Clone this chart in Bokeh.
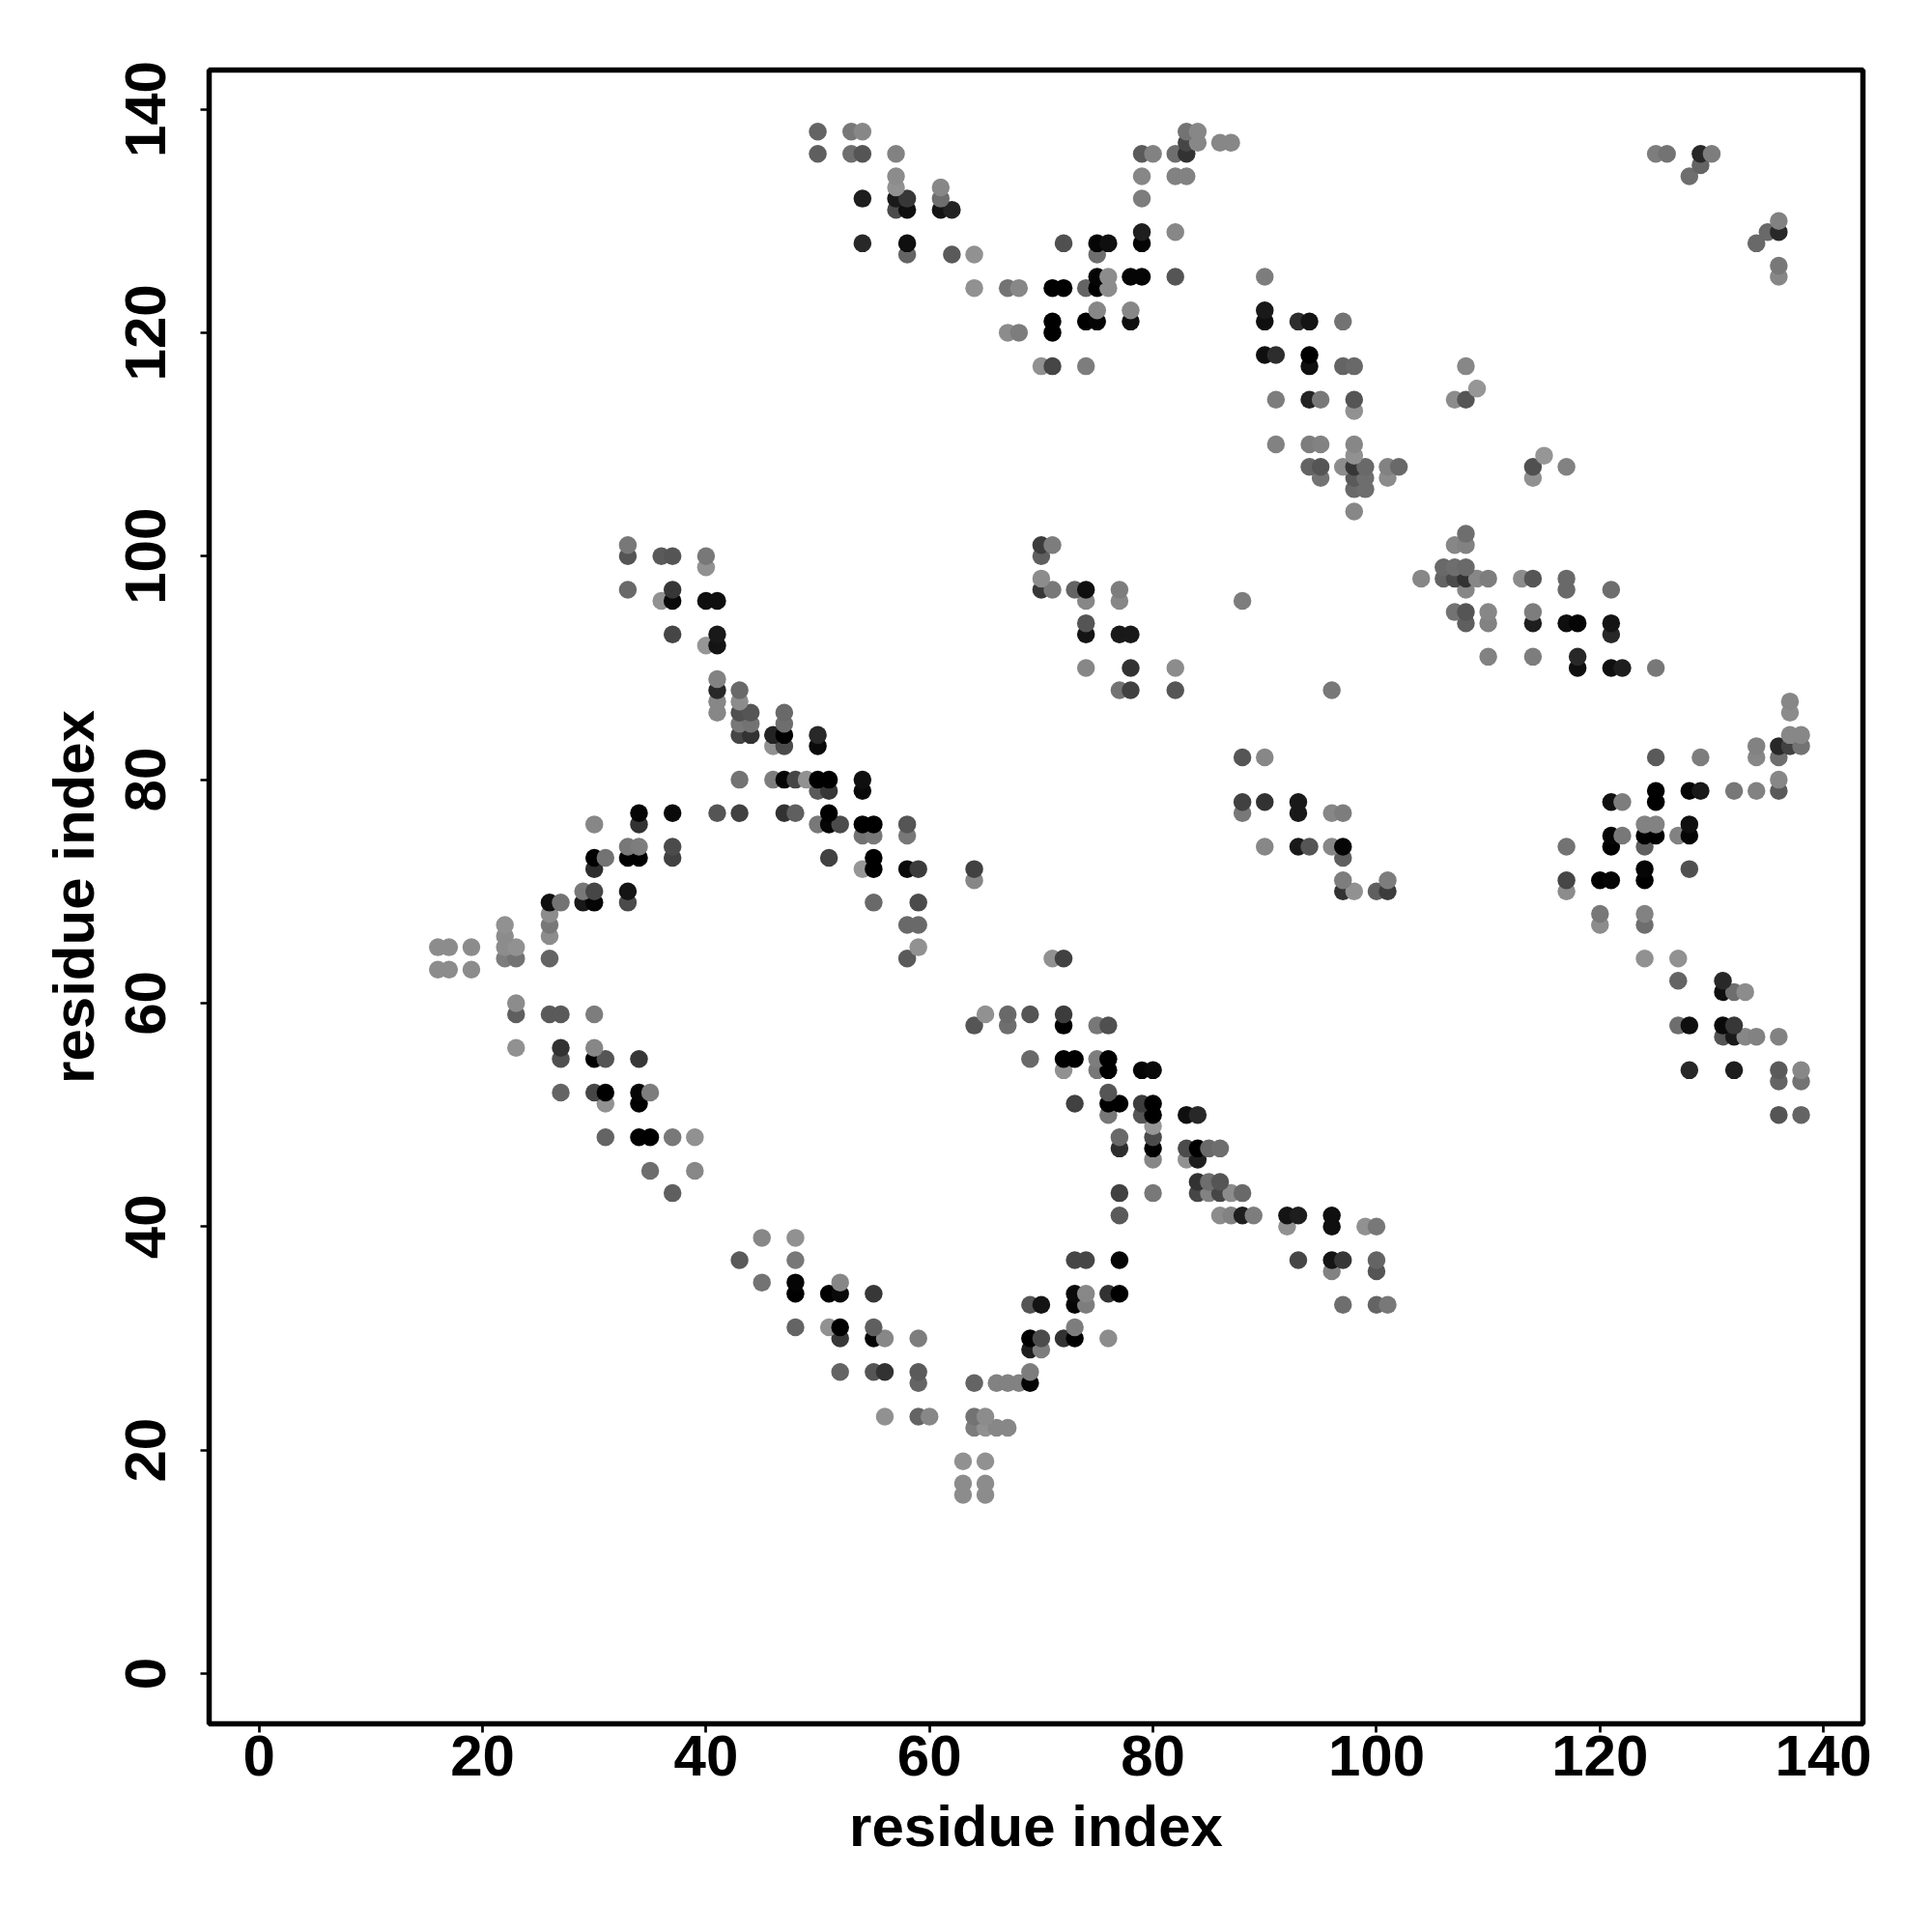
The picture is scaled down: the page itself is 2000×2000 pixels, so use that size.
from bokeh.plotting import figure
from bokeh.models import FixedTicker, Range1d, ColumnDataSource
from bokeh.embed import file_html
from bokeh.resources import INLINE

tick_values = [0, 20, 40, 60, 80, 100, 120, 140]
axis_title = "residue index"

row_y = [138, 137, 136, 135, 134, 133, 132, 131, 130, 129,
         128, 127, 126, 125, 124, 122, 121, 120, 118, 117,
         115, 114, 113, 110, 109, 108, 107, 106, 104, 102,
         101, 100, 99, 98, 97, 96, 95, 94, 93, 92,
         91, 90, 89, 88, 87, 86, 85, 84, 83, 82,
         80, 79, 78, 77, 76, 75, 74, 73, 72, 71,
         70, 69, 68, 67, 66, 65, 64, 63, 62, 61,
         60, 59, 58, 57, 56, 55, 54, 53, 52, 51,
         50, 49, 48, 47, 46, 45, 44, 43, 41, 40,
         39, 37, 36, 35, 34, 33, 31, 30, 29, 27,
         26, 23, 22, 19, 17, 16]

row_x = [
    [50, 53, 54, 83, 84],
    [83, 84, 86, 87],
    [50, 53, 54, 57, 79, 80, 82, 83, 125, 126, 129, 130],
    [129],
    [57, 79, 82, 83, 128],
    [57, 61],
    [54, 57, 58, 61, 79],
    [57, 58, 61, 62],
    [136],
    [79, 82, 135, 136],
    [54, 58, 72, 75, 76, 79, 134],
    [58, 62, 64, 75],
    [136],
    [75, 76, 78, 79, 82, 90, 136],
    [64, 67, 68, 71, 72, 74, 75, 76],
    [75, 78, 90],
    [71, 74, 75, 78, 90, 93, 94, 97],
    [67, 68, 71],
    [90, 91, 94],
    [70, 71, 74, 94, 97, 98, 108],
    [109],
    [91, 94, 95, 98, 107, 108],
    [98],
    [91, 94, 95, 98],
    [98, 115],
    [94, 95, 97, 98, 99, 101, 102, 114, 117],
    [95, 98, 99, 101, 114],
    [98, 99],
    [98],
    [108],
    [33, 70, 71, 107, 108],
    [33, 36, 37, 40, 70],
    [40, 106, 107, 108],
    [70, 104, 106, 107, 108, 109, 110, 113, 114, 117],
    [33, 37, 70, 71, 73, 74, 77, 108, 117, 121],
    [36, 37, 40, 41, 74, 77, 88],
    [107, 108, 110, 114],
    [74, 108, 110, 114, 117, 118, 121],
    [37, 41, 74, 77, 78, 121],
    [40, 41],
    [110, 114, 118],
    [74, 78, 82, 118, 121, 122, 125],
    [41],
    [41, 43, 77, 78, 82, 96],
    [41, 43, 137],
    [41, 43, 44, 47, 137],
    [43, 44, 47],
    [43, 44, 46, 47, 50, 137, 138],
    [46, 47, 50, 134, 136, 137, 138],
    [88, 90, 125, 129, 134, 136],
    [43, 46, 47, 48, 49, 50, 51, 54, 136],
    [50, 51, 54, 125, 128, 129, 132, 134, 136],
    [88, 90, 93, 121, 122, 125],
    [34, 37, 41, 43, 47, 48, 51, 88, 93, 96, 97],
    [30, 34, 50, 51, 52, 54, 55, 58, 124, 125, 128],
    [54, 55, 58, 121, 122, 124, 125, 127, 128],
    [33, 34, 37, 90, 93, 94, 96, 97, 117, 121, 124],
    [30, 31, 33, 34, 37, 51, 55, 97],
    [30, 54, 55, 58, 59, 64, 124, 128],
    [64, 97, 101, 117, 120, 121, 124],
    [29, 30, 33, 97, 98, 100, 101, 117],
    [26, 27, 29, 30, 33, 55, 59],
    [26, 120, 124],
    [22, 26, 58, 59, 120, 124],
    [22, 26],
    [16, 17, 19, 22, 23, 59],
    [22, 23, 26, 58, 71, 72, 124, 127],
    [16, 17, 19],
    [127, 131],
    [131, 132, 133],
    [23],
    [23, 26, 27, 30, 65, 67, 69, 72],
    [64, 67, 72, 75, 76, 127, 128, 131, 132],
    [131, 132, 133, 134, 136],
    [23, 27, 30],
    [27, 30, 31, 34, 69, 72, 73, 75, 76],
    [72, 75, 76, 79, 80, 128, 132, 136, 138],
    [136, 138],
    [27, 30, 31, 34, 35, 76],
    [31, 34, 73, 76, 77, 79, 80],
    [76, 79, 80, 83, 84, 136, 138],
    [80],
    [31, 34, 35, 37, 39, 77, 80],
    [77, 80, 83, 84, 85, 86],
    [80, 83, 84],
    [35, 39],
    [84, 85, 86],
    [37, 77, 80, 84, 85, 86, 87, 88],
    [77, 86, 87, 88, 89, 92, 93, 96],
    [92, 96, 99, 100],
    [45, 48],
    [43, 48, 73, 74, 77, 93, 96, 97, 100],
    [96, 100],
    [45, 48, 52],
    [48, 51, 52, 55, 73, 74, 76, 77],
    [69, 70, 73, 74, 97, 100, 101],
    [48, 51, 52, 55, 73],
    [52, 55, 56, 59, 69, 70, 72, 73, 76],
    [69, 70],
    [52, 55, 56, 59, 69],
    [59, 64, 66, 67, 68, 69],
    [56, 59, 60, 64, 65],
    [64, 65, 66, 67],
    [63, 65],
    [63, 65],
    [63, 65],
]

row_shade = [
    [100, 120, 135, 115, 135],
    [70, 135, 135, 135],
    [95, 110, 85, 130, 90, 130, 110, 50, 125, 115, 40, 125],
    [100],
    [140, 135, 130, 130, 110],
    [145, 135],
    [30, 25, 55, 110, 125],
    [75, 15, 20, 35],
    [130],
    [30, 135, 105, 40],
    [40, 15, 80, 5, 15, 5, 105],
    [100, 90, 145, 110],
    [120],
    [5, 140, 5, 5, 85, 125, 135],
    [145, 115, 135, 0, 0, 100, 0, 140],
    [135, 135, 25],
    [0, 0, 5, 15, 15, 45, 20, 115],
    [140, 125, 0],
    [15, 45, 0],
    [145, 70, 125, 15, 100, 105, 135],
    [150],
    [125, 35, 120, 85, 140, 85],
    [145],
    [130, 125, 130, 135],
    [145, 150],
    [100, 85, 140, 55, 105, 130, 105, 80, 130],
    [115, 90, 110, 140, 145],
    [105, 110],
    [135],
    [110],
    [120, 60, 125, 135, 130],
    [85, 90, 85, 120, 95],
    [145, 105, 110, 105],
    [140, 135, 100, 75, 50, 135, 125, 140, 85, 105],
    [105, 55, 55, 120, 100, 15, 125, 135, 105, 110],
    [145, 10, 15, 15, 135, 135, 125],
    [115, 85, 135, 125],
    [85, 95, 130, 30, 15, 5, 20],
    [70, 25, 20, 25, 25, 40],
    [150, 20],
    [130, 125, 40],
    [135, 50, 140, 15, 15, 30, 120],
    [130],
    [40, 105, 115, 65, 85, 120],
    [135, 140, 135],
    [135, 80, 85, 105, 140],
    [120, 115, 110],
    [70, 50, 35, 0, 40, 135, 135],
    [145, 75, 10, 130, 40, 65, 115],
    [85, 135, 90, 125, 135, 110],
    [115, 125, 5, 70, 145, 0, 0, 15, 135],
    [90, 55, 10, 0, 5, 25, 120, 130, 90],
    [65, 50, 25, 15, 125, 0],
    [5, 10, 85, 65, 50, 95, 0, 120, 25, 135, 125],
    [135, 50, 120, 5, 75, 0, 0, 85, 130, 130, 15],
    [115, 120, 120, 5, 120, 0, 0, 130, 5],
    [120, 125, 75, 135, 25, 85, 135, 5, 115, 0, 95],
    [0, 115, 0, 0, 65, 65, 0, 95],
    [45, 150, 0, 10, 60, 65, 5, 80],
    [135, 125, 125, 70, 0, 5, 0],
    [120, 70, 20, 50, 145, 95, 60, 140],
    [15, 115, 25, 5, 75, 105, 75],
    [140, 120, 130],
    [145, 120, 105, 105, 140, 110],
    [140, 140],
    [140, 140, 140, 140, 145, 145],
    [125, 115, 100, 90, 145, 65, 145, 145],
    [140, 140, 140],
    [100, 40],
    [15, 110, 140],
    [140],
    [95, 90, 90, 125, 145, 105, 85, 60],
    [85, 110, 0, 120, 80, 110, 15, 10, 55],
    [85, 25, 135, 130, 130],
    [145, 50, 135],
    [80, 0, 85, 55, 105, 0, 0, 125, 0],
    [145, 120, 0, 5, 10, 40, 30, 90, 135],
    [100, 115],
    [100, 70, 0, 5, 125, 85],
    [145, 0, 65, 0, 0, 60, 0],
    [120, 85, 0, 15, 40, 85, 100],
    [150],
    [100, 0, 0, 120, 145, 105, 75],
    [45, 0, 75, 0, 105, 110],
    [135, 145, 30],
    [110, 135],
    [50, 110, 85],
    [95, 65, 120, 70, 130, 70, 140, 105],
    [90, 140, 130, 30, 125, 20, 30, 15],
    [145, 15, 145, 120],
    [135, 145],
    [90, 120, 70, 70, 5, 70, 20, 55, 100],
    [130, 85],
    [115, 5, 135],
    [0, 0, 10, 55, 10, 135, 50, 0],
    [85, 20, 5, 125, 110, 100, 120],
    [100, 145, 0, 95, 125],
    [55, 5, 135, 125, 0, 75, 50, 0, 140],
    [30, 125],
    [100, 85, 50, 90, 125],
    [100, 100, 130, 130, 130, 5],
    [145, 100, 135, 115, 140],
    [125, 145, 135, 135],
    [145, 145],
    [140, 140],
    [140, 140],
]

records = []
for yv, xs, gs in zip(row_y, row_x, row_shade):
    assert len(xs) == len(gs), (yv, xs, gs)
    for xv, g in zip(xs, gs):
        records.append((yv, xv, g))
records.sort()  # higher rows and later columns are painted on top

source = ColumnDataSource(dict(
    x=[r[1] for r in records],
    y=[r[0] for r in records],
    color=["#%02x%02x%02x" % (r[2], r[2], r[2]) for r in records],
))

xlim = (-51.7 / 11.57, 148.0 - 51.7 / 11.57)
ylim = (-52 / 11.57, 148.0 - 52 / 11.57)

p = figure(width=1984, height=1984, output_backend="svg", toolbar_location=None,
           x_range=Range1d(*xlim), y_range=Range1d(*ylim),
           min_border_left=216, min_border_right=56, min_border_top=72, min_border_bottom=200,
           frame_width=1712, frame_height=1712,
           background_fill_color="white", border_fill_color="white")
p.grid.visible = False
p.outline_line_color = "black"
p.outline_line_width = 5.5

p.scatter("x", "y", source=source, marker="circle", size=18.5, fill_color="color", line_color=None)

for ax in (p.xaxis[0], p.yaxis[0]):
    ax.ticker = FixedTicker(ticks=tick_values)
    ax.axis_label = axis_title
    ax.axis_line_color = None
    ax.major_tick_in = 0
    ax.major_tick_out = 9
    ax.minor_tick_line_color = None
    ax.major_tick_line_color = "black"
    ax.major_tick_line_width = 2.7
    ax.major_label_text_font = "Liberation Sans"
    ax.major_label_text_font_style = "bold"
    ax.major_label_text_font_size = "60px"
    ax.major_label_text_color = "black"
    ax.axis_label_text_font = "Liberation Sans"
    ax.axis_label_text_font_style = "bold"
    ax.axis_label_text_font_size = "60px"
    ax.axis_label_text_color = "black"

p.xaxis[0].major_label_standoff = 3
p.xaxis[0].axis_label_standoff = 16
p.yaxis[0].major_label_orientation = "vertical"
p.yaxis[0].major_label_standoff = 36
p.yaxis[0].axis_label_standoff = 18

open("out.html", "w").write(file_html(p, INLINE))
